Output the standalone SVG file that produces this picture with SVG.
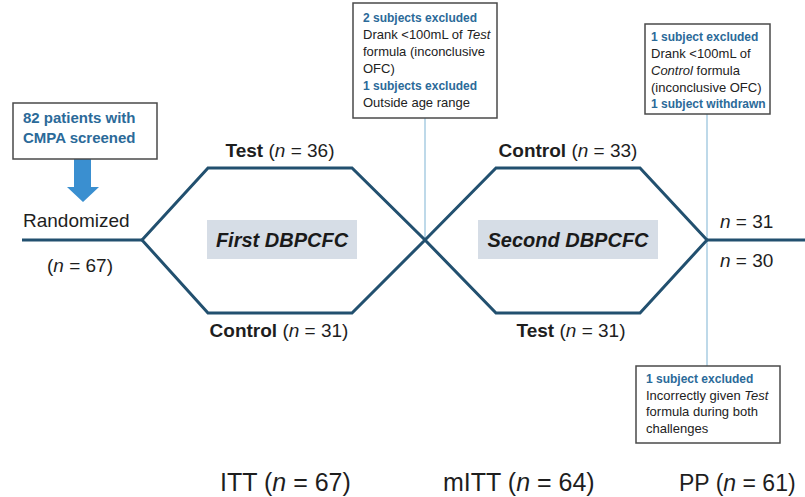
<svg xmlns="http://www.w3.org/2000/svg" width="805" height="497" viewBox="0 0 805 497">
  <style>
    .txt { font-family: "Liberation Sans", Arial, sans-serif; fill: #1e1e1e; }
    .lbl { font-size: 19px; }
    .b { font-weight: bold; }
    .i { font-style: italic; }
    .note { font-family: "Liberation Sans", Arial, sans-serif; font-size: 13px; fill: #222; }
    .note .hd { font-weight: bold; fill: #2b6a99; font-size: 12px; }
    .box { fill: #ffffff; stroke: #4a4a4a; stroke-width: 1.5; }
    .path { fill: none; stroke: #22506f; stroke-width: 3; stroke-linejoin: miter; }
    .guide { stroke: #a9cce2; stroke-width: 1.5; fill: none; }
    .stage { fill: #d6dde6; }
    .stageTxt { font-family: "Liberation Sans", Arial, sans-serif; font-size: 20px; font-weight: bold; font-style: italic; fill: #1a1a1a; }
    .pop { font-family: "Liberation Sans", Arial, sans-serif; font-size: 25px; fill: #1e1e1e; }
    .pop.narrow { font-size: 23px; }
  </style>

  <!-- connectors: flow lines and thin guides to exclusion notes -->
  <g id="connectors">
    <line class="guide" x1="425" y1="118" x2="425" y2="240"/>
    <line class="guide" x1="707" y1="114" x2="707" y2="366"/>
    <line class="path" x1="22" y1="240" x2="142" y2="240"/>
    <polygon class="path" points="142,240 208,168 352,168 425,240 352,313 208,313"/>
    <polygon class="path" points="425,240 496,168 640,168 707,240 640,313 496,313"/>
    <line class="path" x1="707" y1="240" x2="805" y2="240"/>
    <polygon fill="#3a8fd0" points="74,159 91,159 91,187 99,187 83,202 67,187 74,187"/>
  </g>

  <g id="screened">
    <rect class="box" x="13" y="103" width="144" height="56"/>
    <text class="txt b" x="23" y="123" font-size="15" style="fill:#2b6a99">82 patients with</text>
    <text class="txt b" x="23" y="143" font-size="15" style="fill:#2b6a99">CMPA screened</text>
  </g>

  <g id="randomized">
    <text class="txt lbl" x="23" y="227">Randomized</text>
    <text class="txt lbl" x="80" y="272" text-anchor="middle">(<tspan class="i">n</tspan> = 67)</text>
  </g>

  <g id="first-challenge">
    <rect class="stage" x="207" y="220" width="150" height="39"/>
    <text class="stageTxt" x="282" y="247" text-anchor="middle">First DBPCFC</text>
    <text class="txt lbl" x="280" y="157" text-anchor="middle"><tspan class="b">Test</tspan> (<tspan class="i">n</tspan> = 36)</text>
    <text class="txt lbl" x="279" y="337" text-anchor="middle"><tspan class="b">Control</tspan> (<tspan class="i">n</tspan> = 31)</text>
  </g>

  <g id="second-challenge">
    <rect class="stage" x="478" y="220" width="180" height="39"/>
    <text class="stageTxt" x="568" y="247" text-anchor="middle">Second DBPCFC</text>
    <text class="txt lbl" x="568" y="157" text-anchor="middle"><tspan class="b">Control</tspan> (<tspan class="i">n</tspan> = 33)</text>
    <text class="txt lbl" x="571" y="337" text-anchor="middle"><tspan class="b">Test</tspan> (<tspan class="i">n</tspan> = 31)</text>
  </g>

  <g id="completed">
    <text class="txt lbl" x="720" y="228"><tspan class="i">n</tspan> = 31</text>
    <text class="txt lbl" x="720" y="267"><tspan class="i">n</tspan> = 30</text>
  </g>

  <g id="exclusions-first">
    <rect class="box" x="353" y="3" width="144" height="115"/>
    <text class="note">
      <tspan class="hd" x="363" y="22">2 subjects excluded</tspan>
      <tspan x="363" y="39">Drank &lt;100mL of <tspan class="i">Test</tspan></tspan>
      <tspan x="363" y="56">formula (inconclusive</tspan>
      <tspan x="363" y="73">OFC)</tspan>
      <tspan class="hd" x="363" y="90">1 subjects excluded</tspan>
      <tspan x="363" y="107">Outside age range</tspan>
    </text>
  </g>

  <g id="exclusions-second">
    <rect class="box" x="645" y="24" width="125" height="90"/>
    <text class="note">
      <tspan class="hd" x="651" y="41">1 subject excluded</tspan>
      <tspan x="651" y="58">Drank &lt;100mL of</tspan>
      <tspan x="651" y="75"><tspan class="i">Control</tspan> formula</tspan>
      <tspan x="651" y="92">(inconclusive OFC)</tspan>
      <tspan class="hd" x="651" y="108">1 subject withdrawn</tspan>
    </text>
  </g>

  <g id="exclusions-both">
    <rect class="box" x="636" y="366" width="144" height="77"/>
    <text class="note">
      <tspan class="hd" x="646" y="383">1 subject excluded</tspan>
      <tspan x="646" y="400">Incorrectly given <tspan class="i">Test</tspan></tspan>
      <tspan x="646" y="416">formula during both</tspan>
      <tspan x="646" y="433">challenges</tspan>
    </text>
  </g>

  <g id="populations">
    <text class="pop" x="220" y="491">ITT (<tspan font-style="italic">n</tspan> = 67)</text>
    <text class="pop" x="443" y="491">mITT (<tspan font-style="italic">n</tspan> = 64)</text>
    <text class="pop narrow" x="679" y="491">PP (<tspan font-style="italic">n</tspan> = 61)</text>
  </g>
</svg>
